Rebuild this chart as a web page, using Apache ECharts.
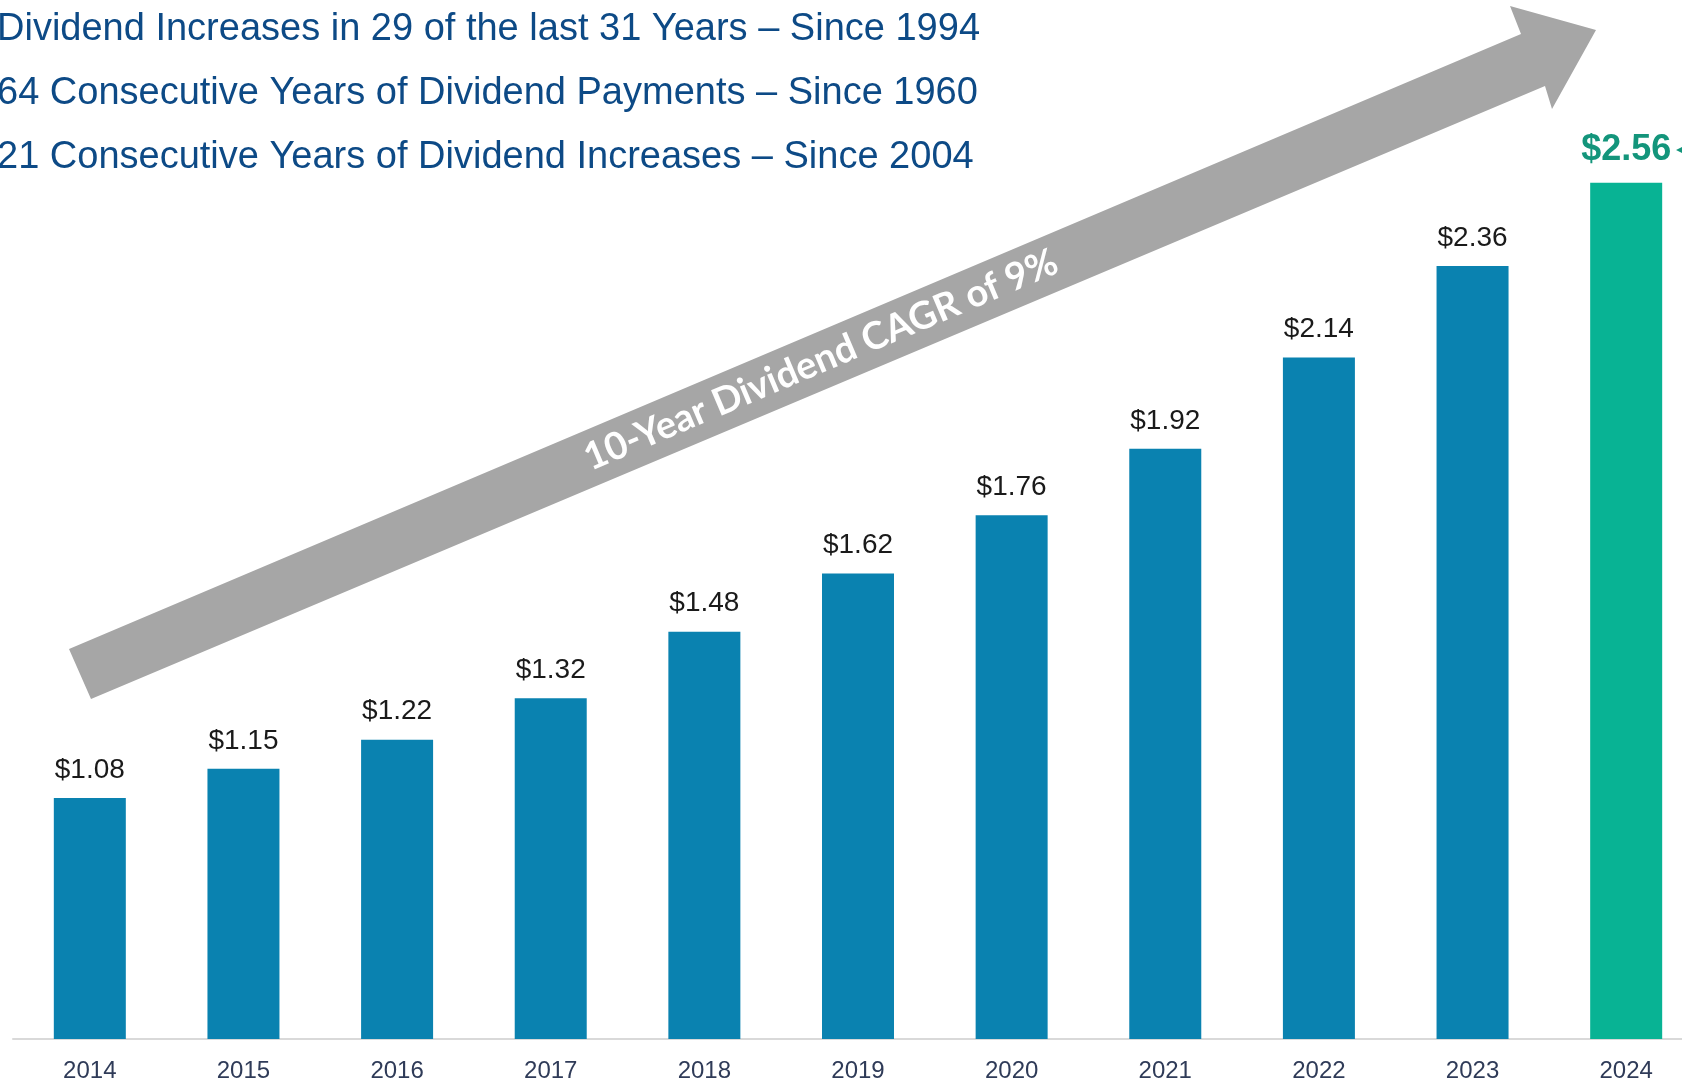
<!DOCTYPE html>
<html>
<head>
<meta charset="utf-8">
<title>Dividend history</title>
<script src="https://cdn.jsdelivr.net/npm/echarts@6/dist/echarts.min.js"></script>
<style>
  html, body { margin: 0; padding: 0; background: #fff; }
  #chart { width: 1682px; height: 1081px; }
</style>
</head>
<body>
<div id="chart"></div>
<script>
const years = ['2014', '2015', '2016', '2017', '2018', '2019', '2020', '2021', '2022', '2023', '2024']
const dividends = [1.08, 1.15, 1.22, 1.32, 1.48, 1.62, 1.76, 1.92, 2.14, 2.36, 2.56]
const headlines = [
  'Dividend Increases in 29 of the last 31 Years \u2013 Since 1994',
  '64 Consecutive Years of Dividend Payments \u2013 Since 1960',
  '21 Consecutive Years of Dividend Increases \u2013 Since 2004'
]
const arrowText = '10-Year Dividend CAGR of 9%'

const BLUE = '#0a82b0'
const GREEN = '#08b394'
const GREEN_TEXT = '#13957b'
const NAVY = '#0d4a86'

const barData = dividends.map((v, i) => {
  const last = i === dividends.length - 1
  if (!last) return v
  return {
    value: v,
    itemStyle: { color: GREEN },
    label: {
      color: GREEN_TEXT,
      fontSize: 36,
      fontWeight: 'bold',
      distance: 15
    }
  }
})

// header lines, top left
const headerGraphics = headlines.map((t, i) => ({
  type: 'text',
  x: -3,
  y: 30 + i * 64,
  style: {
    text: t,
    fill: NAVY,
    verticalAlign: 'middle',
    font: '38px "Liberation Sans", Arial, sans-serif'
  }
}))

const option = {
  backgroundColor: '#fff',
  animation: false,
  grid: { left: 13, top: 0, width: 1690, height: 1039, outerBoundsMode: 'none' },
  xAxis: {
    type: 'category',
    data: years,
    axisLine: { lineStyle: { color: '#d9d9d9', width: 2 } },
    axisTick: { show: false },
    axisLabel: {
      margin: 20,
      color: '#2f3b58',
      fontSize: 24,
      fontFamily: '"Liberation Sans", Arial, sans-serif'
    }
  },
  yAxis: {
    type: 'value',
    min: 0.5,
    max: 3.0,
    show: false
  },
  series: [{
    type: 'bar',
    data: barData,
    barWidth: 72,
    itemStyle: { color: BLUE },
    label: {
      show: true,
      position: 'top',
      distance: 14,
      color: '#1a1a1a',
      fontSize: 28,
      fontFamily: '"Liberation Sans", Arial, sans-serif',
      formatter: p => '$' + p.value.toFixed(2)
    }
  }],
  graphic: headerGraphics.concat([
    {
      type: 'polygon',
      shape: {
        points: [[69, 649], [1521, 34], [1510, 6], [1596, 30], [1552, 109], [1545, 86], [91, 699]]
      },
      style: { fill: '#a6a6a6' }
    },
    {
      type: 'text',
      x: 821,
      y: 360,
      rotation: 23 * Math.PI / 180,
      style: {
        text: arrowText,
        fill: '#fff',
        align: 'center',
        verticalAlign: 'middle',
        font: 'bold 38px Lato, "Open Sans", sans-serif'
      }
    },
    {
      type: 'polygon',
      shape: { points: [[1676, 150], [1684, 146], [1684, 154]] },
      style: { fill: GREEN_TEXT }
    }
  ])
}

const chart = echarts.init(document.getElementById('chart'))
chart.setOption(option)
window.addEventListener('resize', () => chart.resize())
</script>
</body>
</html>
